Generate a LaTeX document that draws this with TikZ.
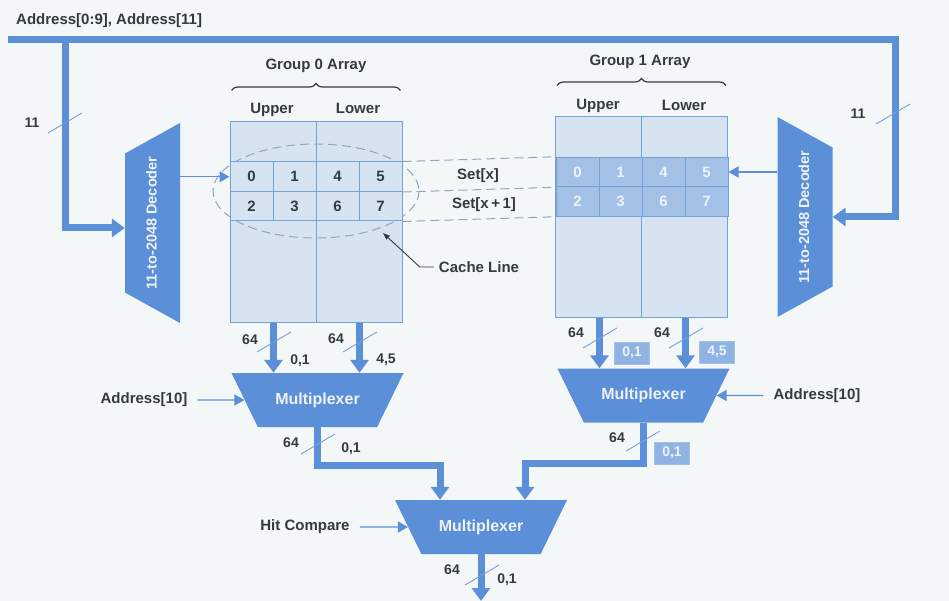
\documentclass[tikz,border=0pt]{standalone}
\usepackage{fontspec}
\setmainfont{Liberation Sans}
\usetikzlibrary{arrows.meta, positioning, decorations.pathreplacing, calc, shapes.geometric}
\definecolor{busBlue}{HTML}{5B8FD8}
\definecolor{arrFill}{HTML}{D6E4F1}
\definecolor{arrLine}{HTML}{74A1D8}
\definecolor{setFill}{HTML}{A3C0E6}
\definecolor{tagFill}{HTML}{8FB3E3}
\definecolor{txtGray}{HTML}{333B40}
\definecolor{paleTxt}{HTML}{EEF3FA}
\definecolor{bgPaper}{HTML}{F4F7F8}
\definecolor{dashGray}{HTML}{8FA6BF}

\tikzset{
  lbl/.style={font=\fontsize{15}{18}\selectfont\bfseries, text=txtGray, inner sep=0pt},
  numlbl/.style={lbl, font=\fontsize{14}{16}\selectfont\bfseries},
  bus/.style={busBlue, line width=7pt, line join=miter},
  busarrow/.style={bus, -{Triangle[width=18pt,length=13pt]}},
  thinarrow/.style={busBlue, line width=1.4pt, -{Triangle[width=11pt,length=10pt]}},
  leader/.style={txtGray, line width=0.9pt, -{Triangle[width=5pt,length=7pt]}},
  setdash/.style={dashGray, line width=1pt, dash pattern=on 9pt off 5pt},
  brace/.style={txtGray, line width=1.2pt, decorate, decoration={brace, amplitude=7pt}},
  mux/.style={trapezium, trapezium stretches body, shape border rotate=180,
    trapezium angle=64, fill=busBlue, minimum width=172pt,
    text height=12pt, text depth=4pt, inner ysep=19pt, inner xsep=0pt,
    font=\fontsize{16}{18}\selectfont\bfseries, text=paleTxt},
  decoder/.style={trapezium, trapezium stretches body, trapezium angle=61, rotate=90,
    fill=busBlue, minimum width=200pt,
    text height=11pt, text depth=3pt, inner ysep=20.5pt, inner xsep=0pt,
    font=\fontsize{14.5}{17}\selectfont\bfseries, text=paleTxt},
  memarray/.style={draw=arrLine, fill=arrFill, line width=1pt,
    minimum width=172pt, minimum height=200pt, inner sep=0pt},
  cell/.style={draw=arrLine, fill=arrFill, line width=1pt, minimum width=43pt,
    minimum height=29.5pt, inner sep=0pt, font=\fontsize{15}{18}\selectfont\bfseries, text=txtGray},
  hotcell/.style={cell, fill=setFill, text=paleTxt},
  tagbox/.style={draw=setFill, fill=tagFill, line width=1pt, minimum width=35pt,
    minimum height=22pt, inner sep=0pt, font=\fontsize{14}{16}\selectfont\bfseries, text=paleTxt},
  busmark/.pic={\draw[arrLine, line width=0.9pt] (-17,10) -- (17,-10);}
}

\begin{document}
\begin{tikzpicture}[x=1pt, y=-1pt]
  \useasboundingbox (0,0) rectangle (949,601);
  \fill[bgPaper] (0,0) rectangle (949,601);

  % arrays
  \node[memarray] (g0) at (316,222) {};
  \node[memarray] (g1) at (641.5,217) {};
  \draw[arrLine, line width=1pt] (g0.north) -- (g0.south);
  \draw[arrLine, line width=1pt] (g1.north) -- (g1.south);
  \draw[setdash] (316,191) ellipse [x radius=103, y radius=47];
  \foreach \d/\k in {0/0, 1/1, 4/2, 5/3} {
    \node[cell] (a\d) at (251.5+43*\k,176.75) {\d};
    \node[hotcell] (b\d) at (577.5+43*\k,172) {\d};
  }
  \foreach \d/\k in {2/0, 3/1, 6/2, 7/3} {
    \node[cell] (a\d) at (251.5+43*\k,206.25) {\d};
    \node[hotcell] (b\d) at (577.5+43*\k,201.5) {\d};
  }
  \draw[setdash] (a5.north east) -- (b0.north west);
  \draw[setdash] (a5.south east) -- (b0.south west);
  \draw[setdash] (a7.south east) -- (b2.south west);
  \node[lbl] (setx) at (478,176) {Set[x]};
  \node[lbl] (setxx) at (484,205) {Set[x\,+\,1]};

  \node[lbl] (cache) at (479,267) {Cache Line};
  \coordinate (clpt) at (383,233);
  \draw[leader] ([xshift=-5pt]cache.west) -- ++(-14,0) -- (clpt);

  % headings
  \draw[brace] ([xshift=2pt,yshift=31pt]g0.north west) -- ([xshift=-2pt,yshift=31pt]g0.north east);
  \draw[brace] ([xshift=2pt,yshift=31pt]g1.north west) -- ([xshift=-2pt,yshift=31pt]g1.north east);
  \node[lbl] (g0title) at (316,66) {Group 0 Array};
  \node[lbl] (g1title) at (640,62) {Group 1 Array};
  \node[lbl] (g0up) at (272,110) {Upper};
  \node[lbl] (g0lo) at (358,108) {Lower};
  \node[lbl] (g1up) at (598,106) {Upper};
  \node[lbl] (g1lo) at (684,105) {Lower};

  % decoders and multiplexers
  \node[decoder] (dec0) at (152.5,223) {11-to-2048 Decoder};
  \node[decoder, shape border rotate=180] (dec1) at (805,217) {11-to-2048 Decoder};
  \node[mux] (mux0) at (317.5,400) {Multiplexer};
  \node[mux] (mux1) at (643.5,395.5) {Multiplexer};
  \node[mux] (muxsel) at (481,527) {Multiplexer};

  % address bus
  \node[lbl, anchor=west] (addr) at (16,21) {Address[0:9], Address[11]};
  \coordinate (busL) at (8,40);
  \coordinate (busR) at (895,40);
  \coordinate (tapL) at (65,40);
  \draw[busarrow] (busL) -- (busR) |- (dec1.south);
  \draw[busarrow] (tapL) |- ([yshift=-5pt]dec0.north);
  \draw[thinarrow] (dec0.south |- a0.west) -- (a0.west);
  \draw[thinarrow] (dec1.north |- b5.east) -- (b5.east);
  \path (65,123) pic {busmark} (893,114) pic {busmark};
  \node[numlbl] (w0) at (32,123) {11};
  \node[numlbl] (w1) at (858,114) {11};

  % data paths
  \coordinate (jl) at (0,465);
  \coordinate (jr) at (0,463);
  \coordinate (outp) at (0,601);
  \draw[busarrow] (a0.east |- g0.south) -- (a0.east |- mux0.north);
  \draw[busarrow] (a4.east |- g0.south) -- (a4.east |- mux0.north);
  \draw[busarrow] (b0.east |- g1.south) -- (b0.east |- mux1.north);
  \draw[busarrow] (b4.east |- g1.south) -- (b4.east |- mux1.north);
  \draw[busarrow] (mux0.south) -- (mux0.south |- jl) -| ([xshift=-41pt]muxsel.north);
  \draw[busarrow] (mux1.south) -- (mux1.south |- jr) -| ([xshift=44pt]muxsel.north);
  \draw[busarrow] (muxsel.south) -- (muxsel.south |- outp);

  \path (274,342) pic {busmark} (360,342) pic {busmark}
        (600,338) pic {busmark} (686,338) pic {busmark}
        (318,444) pic {busmark} (643,441) pic {busmark}
        (482,575) pic {busmark};
  \node[numlbl] (n1) at (250,340) {64};
  \node[numlbl] (n2) at (336,339) {64};
  \node[numlbl] (n3) at (576,333) {64};
  \node[numlbl] (n4) at (662,333) {64};
  \node[numlbl] (n5) at (291,443) {64};
  \node[numlbl] (n6) at (617,438) {64};
  \node[numlbl] (n7) at (452,570) {64};
  \node[numlbl] (s1) at (300,361) {0,1};
  \node[numlbl] (s2) at (386,360) {4,5};
  \node[numlbl] (s3) at (351,449) {0,1};
  \node[numlbl] (s4) at (507,580) {0,1};
  \node[tagbox] (t1) at (632,353) {0,1};
  \node[tagbox] (t2) at (717,352) {4,5};
  \node[tagbox] (t3) at (672,453) {0,1};

  % select inputs
  \node[lbl] (adr0) at (144,400) {Address[10]};
  \node[lbl] (adr1) at (817,395.5) {Address[10]};
  \node[lbl] (hit) at (305,527) {Hit Compare};
  \draw[thinarrow] ([xshift=10pt]adr0.east) -- (mux0.west);
  \draw[thinarrow] ([xshift=-10pt]adr1.west) -- (mux1.east);
  \draw[thinarrow] ([xshift=10pt]hit.east) -- (muxsel.west);
\end{tikzpicture}
\end{document}
